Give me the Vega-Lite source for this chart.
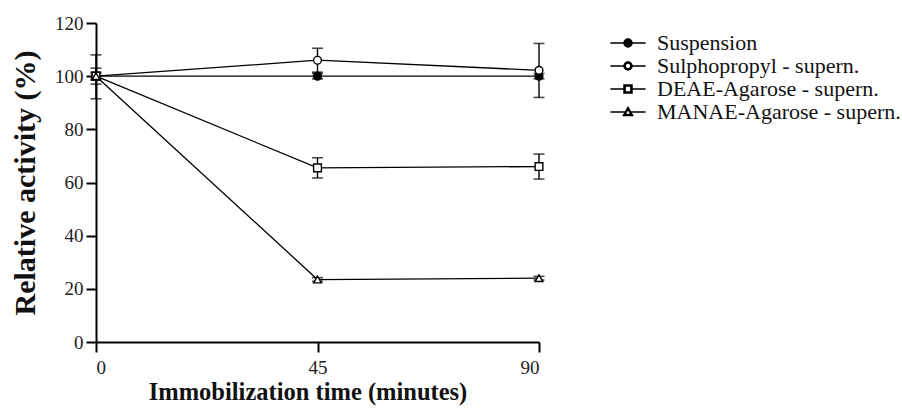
{
  "$schema": "https://vega.github.io/schema/vega-lite/v6.json",
  "width": 443,
  "height": 319,
  "autosize": "none",
  "padding": {"left": 96, "top": 23, "right": 363, "bottom": 70},
  "background": "white",
  "config": {
    "view": {"stroke": null},
    "font": "Liberation Serif",
    "axis": {
      "grid": false,
      "domainColor": "black",
      "domainWidth": 2,
      "tickColor": "black",
      "tickWidth": 2,
      "tickSize": 10,
      "labelFont": "Liberation Serif",
      "labelFontSize": 19,
      "labelColor": "#222",
      "titleFont": "Liberation Serif",
      "titleFontWeight": "bold",
      "titleColor": "#111"
    },
    "legend": {"padding": 0, "offset": 0}
  },
  "data": {
    "values": [
      {"series": "Suspension", "time": 0, "value": 100, "lo": 97, "hi": 103},
      {"series": "Suspension", "time": 45, "value": 100, "lo": 99, "hi": 101},
      {"series": "Suspension", "time": 90, "value": 100, "lo": 99, "hi": 101},
      {"series": "Sulphopropyl - supern.", "time": 0, "value": 100, "lo": 91.5, "hi": 108},
      {"series": "Sulphopropyl - supern.", "time": 45, "value": 106, "lo": 101.5, "hi": 110.5},
      {"series": "Sulphopropyl - supern.", "time": 90, "value": 102.2, "lo": 92, "hi": 112.3},
      {"series": "DEAE-Agarose - supern.", "time": 0, "value": 100, "lo": 98.5, "hi": 101.5},
      {"series": "DEAE-Agarose - supern.", "time": 45, "value": 65.5, "lo": 61.7, "hi": 69.3},
      {"series": "DEAE-Agarose - supern.", "time": 90, "value": 66, "lo": 61.3, "hi": 70.7},
      {"series": "MANAE-Agarose - supern.", "time": 0, "value": 100, "lo": 99, "hi": 101},
      {"series": "MANAE-Agarose - supern.", "time": 45, "value": 23.5, "lo": 22.8, "hi": 24.2},
      {"series": "MANAE-Agarose - supern.", "time": 90, "value": 24, "lo": 23.3, "hi": 24.7}
    ]
  },
  "encoding": {
    "x": {
      "field": "time", "type": "quantitative",
      "scale": {"domain": [0, 90], "nice": false},
      "axis": {"values": [0, 45, 90], "title": "Immobilization time (minutes)", "labelPadding": 6, "titlePadding": 3, "titleFontSize": 24.5, "titleX": 211.5}
    }
  },
  "layer": [
    {
      "mark": {"type": "point", "opacity": 0, "filled": false, "fill": "black", "stroke": "black", "strokeWidth": 0.9, "size": 64},
      "encoding": {
        "y": {
          "field": "value", "type": "quantitative",
          "scale": {"domain": [0, 120], "nice": false},
          "axis": {"values": [0, 20, 40, 60, 80, 100, 120], "title": "Relative activity (%)", "labelPadding": 3, "titlePadding": 14, "titleFontSize": 30}
        },
        "shape": {
          "field": "series", "type": "nominal",
          "scale": {
            "domain": ["Suspension", "Sulphopropyl - supern.", "DEAE-Agarose - supern.", "MANAE-Agarose - supern."],
            "range": [
              "M-4.4,0H4.4M1,0A1,1,0,1,1,-1,0A1,1,0,1,1,1,0Z",
              "M-4.4,0H-1M1,0H4.4M1,0A1,1,0,1,1,-1,0A1,1,0,1,1,1,0ZM0.72,0A0.72,0.72,0,1,0,-0.72,0A0.72,0.72,0,1,0,0.72,0Z",
              "M-4.4,0H-1M1,0H4.4M-1,-1H1V1H-1ZM-0.72,-0.72V0.72H0.72V-0.72Z",
              "M-4.4,0H-0.64M0.64,0H4.4M0,-1.15L1.15,0.85H-1.15ZM0,-0.7L-0.78,0.6H0.78Z"
            ]
          },
          "legend": {
            "title": null,
            "orient": "none",
            "legendX": 521,
            "legendY": 9,
            "symbolSize": 64,
            "labelFont": "Liberation Serif",
            "labelFontSize": 22,
            "labelColor": "#111",
            "labelOffset": 18,
            "rowPadding": 1,
            "labelLimit": 400,
            "encode": {
              "symbols": {
                "update": {
                  "fill": {"value": "black"},
                  "stroke": {"value": "black"},
                  "strokeWidth": {"value": 1},
                  "opacity": {"value": 1},
                  "fillOpacity": {"value": 1},
                  "strokeOpacity": {"value": 1}
                }
              }
            }
          }
        }
      }
    },
    {
      "mark": {"type": "rule", "color": "black", "strokeWidth": 1.4},
      "encoding": {
        "y": {"field": "lo", "type": "quantitative"},
        "y2": {"field": "hi"}
      }
    },
    {
      "mark": {"type": "tick", "orient": "horizontal", "color": "black", "thickness": 1.6, "size": 11},
      "encoding": {"y": {"field": "lo", "type": "quantitative"}}
    },
    {
      "mark": {"type": "tick", "orient": "horizontal", "color": "black", "thickness": 1.6, "size": 11},
      "encoding": {"y": {"field": "hi", "type": "quantitative"}}
    },
    {
      "mark": {"type": "line", "color": "black", "strokeWidth": 1.3},
      "encoding": {
        "y": {"field": "value", "type": "quantitative"},
        "detail": {"field": "series", "type": "nominal"}
      }
    },
    {
      "transform": [{"filter": "datum.series == 'Suspension'"}],
      "mark": {"type": "point", "shape": "circle", "filled": true, "fill": "black", "stroke": "black", "strokeWidth": 1.4, "size": 60, "opacity": 1},
      "encoding": {"y": {"field": "value", "type": "quantitative"}}
    },
    {
      "transform": [{"filter": "datum.series == 'Sulphopropyl - supern.'"}],
      "mark": {"type": "point", "shape": "circle", "filled": true, "fill": "white", "stroke": "black", "strokeWidth": 1.4, "size": 60, "opacity": 1},
      "encoding": {"y": {"field": "value", "type": "quantitative"}}
    },
    {
      "transform": [{"filter": "datum.series == 'DEAE-Agarose - supern.'"}],
      "mark": {"type": "point", "shape": "square", "filled": true, "fill": "white", "stroke": "black", "strokeWidth": 1.4, "size": 60, "opacity": 1},
      "encoding": {"y": {"field": "value", "type": "quantitative"}}
    },
    {
      "transform": [{"filter": "datum.series == 'MANAE-Agarose - supern.'"}],
      "mark": {"type": "point", "shape": "triangle-up", "filled": true, "fill": "white", "stroke": "black", "strokeWidth": 1.4, "size": 60, "opacity": 1},
      "encoding": {"y": {"field": "value", "type": "quantitative"}}
    }
  ]
}
